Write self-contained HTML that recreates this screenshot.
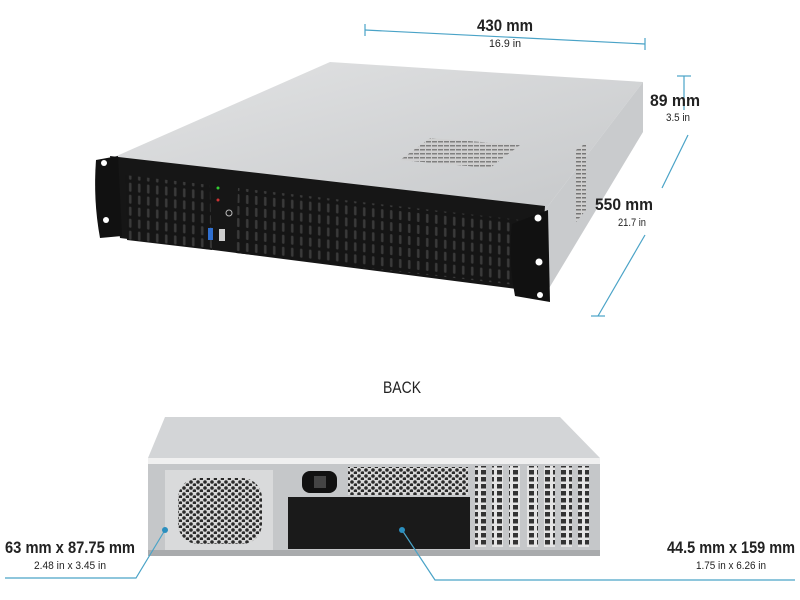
<!DOCTYPE html>
<html><head><meta charset="utf-8"><style>
html,body{margin:0;padding:0;background:#fff;width:800px;height:600px;overflow:hidden}
svg{display:block}
text{font-family:"Liberation Sans Narrow","Liberation Sans",sans-serif;fill:#222}
</style></head><body>
<svg width="800" height="600" viewBox="0 0 800 600" xmlns="http://www.w3.org/2000/svg">
<defs>
<pattern id="slots" width="9" height="12" patternUnits="userSpaceOnUse" patternTransform="skewY(6)">
<rect width="9" height="12" fill="#151515"/>
<rect x="3" y="1" width="2.5" height="9" rx="1" fill="#3a3a3a"/>
</pattern>
<pattern id="hex" width="7" height="6" patternUnits="userSpaceOnUse">
<rect width="7" height="6" fill="#d8d8d8"/>
<circle cx="2" cy="2" r="1.8" fill="#2a2a2a"/><circle cx="5.5" cy="5" r="1.8" fill="#2a2a2a"/>
</pattern>
<pattern id="grill" width="6" height="4" patternUnits="userSpaceOnUse">
<rect width="6" height="4" fill="#cfcfcf"/><rect x="0" y="1" width="5" height="1.5" fill="#777"/>
</pattern>
<pattern id="pci" width="8" height="7" patternUnits="userSpaceOnUse">
<rect width="8" height="7" fill="#e4e4e4"/><rect x="1" y="1" width="5" height="4.5" fill="#333"/>
</pattern>
<linearGradient id="top" x1="0" y1="0" x2="1" y2="1"><stop offset="0" stop-color="#e2e3e4"/><stop offset="1" stop-color="#c6c8ca"/></linearGradient>
</defs>

<!-- top chassis -->
<polygon points="112,158 330,62 643,82 545,210" fill="url(#top)"/>
<polygon points="545,210 643,82 643,132 548,290" fill="#c9cbcd"/>
<polygon points="576,150 586,143 586,210 576,222" fill="url(#grill)"/>
<polygon points="400,160 430,138 520,145 490,168" fill="url(#grill)" opacity="0.9"/>
<!-- front panel -->
<polygon points="110,156 545,206 540,292 120,238" fill="#161616"/>
<polygon points="125,175 210,185 212,250 127,240" fill="url(#slots)"/>
<polygon points="238,188 520,220 516,285 236,253" fill="url(#slots)"/>
<rect x="208" y="228" width="5" height="12" fill="#2f6fd0"/>
<rect x="219" y="229" width="6" height="12" fill="#ccc"/>
<circle cx="218" cy="188" r="1.5" fill="#3c3"/><circle cx="218" cy="200" r="1.5" fill="#c33"/>
<circle cx="229" cy="213" r="3" fill="none" stroke="#bbb"/>
<!-- ears -->
<path d="M96,160 L118,156 L122,236 L100,238 Q93,200 96,160Z" fill="#111"/>
<circle cx="104" cy="163" r="3" fill="#fff"/><circle cx="106" cy="220" r="3" fill="#fff"/>
<path d="M512,224 L548,210 L550,302 L515,296 Q508,260 512,224Z" fill="#111"/>
<circle cx="538" cy="218" r="3.5" fill="#fff"/><circle cx="539" cy="262" r="3.5" fill="#fff"/><circle cx="540" cy="295" r="3" fill="#fff"/>

<!-- dimension lines top -->
<g stroke="#4aa3c7" stroke-width="1.2" fill="none">
<line x1="365" y1="30" x2="645" y2="44"/><line x1="365" y1="24" x2="365" y2="36"/><line x1="645" y1="38" x2="645" y2="50"/>
<line x1="684" y1="76" x2="684" y2="110"/><line x1="677" y1="76" x2="691" y2="76"/>
<line x1="688" y1="135" x2="662" y2="188"/><line x1="645" y1="235" x2="598" y2="316"/><line x1="591" y1="316" x2="605" y2="316"/>
</g>
<text x="505" y="31" font-size="17" font-weight="bold" text-anchor="middle" textLength="56" lengthAdjust="spacingAndGlyphs">430 mm</text>
<text x="505" y="47" font-size="11" text-anchor="middle" textLength="32" lengthAdjust="spacingAndGlyphs">16.9 in</text>
<text x="650" y="106" font-size="17" font-weight="bold" textLength="50" lengthAdjust="spacingAndGlyphs">89 mm</text>
<text x="678" y="121" font-size="11" text-anchor="middle" textLength="24" lengthAdjust="spacingAndGlyphs">3.5 in</text>
<text x="595" y="210" font-size="17" font-weight="bold" textLength="58" lengthAdjust="spacingAndGlyphs">550 mm</text>
<text x="632" y="226" font-size="11" text-anchor="middle" textLength="28" lengthAdjust="spacingAndGlyphs">21.7 in</text>

<text x="402" y="393" font-size="17" text-anchor="middle" textLength="38" lengthAdjust="spacingAndGlyphs">BACK</text>

<!-- back chassis -->
<polygon points="165,417 560,417 600,458 148,458" fill="#d3d5d7"/>
<rect x="148" y="458" width="452" height="6" fill="#f0f0f0"/>
<rect x="148" y="464" width="452" height="92" fill="#c5c7c9"/>
<rect x="165" y="470" width="108" height="82" fill="#d9dadb"/>
<rect x="178" y="478" width="84" height="66" rx="20" fill="url(#hex)"/>
<rect x="288" y="497" width="182" height="52" fill="#1a1a1a"/>
<rect x="348" y="467" width="120" height="28" fill="url(#hex)"/>
<rect x="302" y="471" width="35" height="22" rx="8" fill="#111"/>
<rect x="314" y="476" width="12" height="12" fill="#444"/>
<g fill="url(#pci)">
<rect x="475" y="466" width="11" height="81"/><rect x="492" y="466" width="11" height="81"/><rect x="509" y="466" width="11" height="81"/>
<rect x="527" y="466" width="11" height="81"/><rect x="544" y="466" width="11" height="81"/><rect x="561" y="466" width="11" height="81"/><rect x="578" y="466" width="11" height="81"/>
</g>
<rect x="148" y="550" width="452" height="6" fill="#a9abad"/>

<!-- back dimension leaders -->
<g stroke="#4aa3c7" stroke-width="1.2" fill="none">
<polyline points="5,578 136,578 165,530"/>
<polyline points="290,178" />
<polyline points="402,530 435,580 795,580"/>
</g>
<circle cx="165" cy="530" r="3" fill="#2b8fbf"/>
<circle cx="402" cy="530" r="3" fill="#2b8fbf"/>
<text x="5" y="553" font-size="17" font-weight="bold" textLength="130" lengthAdjust="spacingAndGlyphs">63 mm x 87.75 mm</text>
<text x="70" y="569" font-size="11" text-anchor="middle" textLength="72" lengthAdjust="spacingAndGlyphs">2.48 in x 3.45 in</text>
<text x="667" y="553" font-size="17" font-weight="bold" textLength="128" lengthAdjust="spacingAndGlyphs">44.5 mm x 159 mm</text>
<text x="731" y="569" font-size="11" text-anchor="middle" textLength="70" lengthAdjust="spacingAndGlyphs">1.75 in x 6.26 in</text>
</svg>
</body></html>
